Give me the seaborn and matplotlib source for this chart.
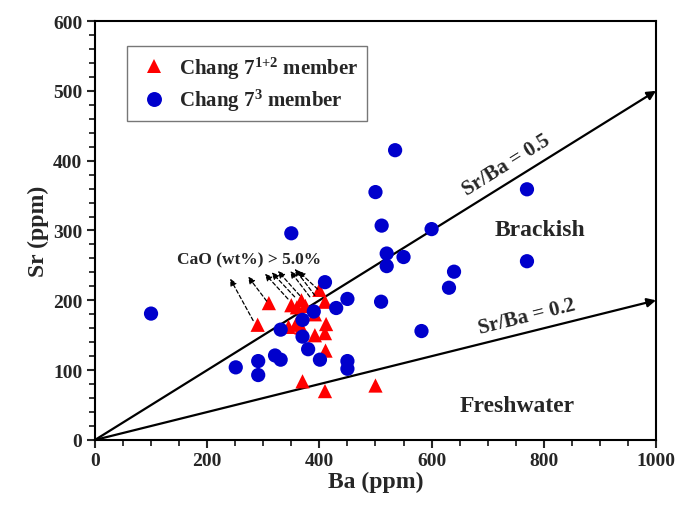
import numpy as np
import pandas as pd
import seaborn as sns
import matplotlib.pyplot as plt
from matplotlib.ticker import MultipleLocator

# Chang 7^(1+2) member (red triangles)
ba_12 = [290, 310, 350, 360, 368, 375, 400, 410, 392, 345, 358, 368, 412, 392, 410, 411, 370, 410, 500]
sr_12 = [165, 196, 193, 190, 200, 192, 215, 198, 180, 162, 165, 161, 166, 150, 153, 128, 84, 70, 78]

# Chang 7^3 member (blue circles)
ba_3 = [100, 251, 291, 291, 321, 331, 331, 350, 370, 370, 380, 390, 401, 410, 430, 450,
        450, 450, 500, 510, 511, 520, 520, 535, 550, 582, 600, 631, 640, 770, 770]
sr_3 = [181, 104, 113, 93, 121, 115, 158, 296, 172, 148, 130, 184, 115, 226, 189, 202,
        113, 102, 355, 198, 307, 267, 249, 415, 262, 156, 302, 218, 241, 359, 256]

# dashed arrows: tail (sample) -> head (label)
arrow_tail_x = [282, 306, 344, 356, 365, 383, 392, 397]
arrow_tail_y = [171, 199, 202, 205, 207, 205, 207, 216]
arrow_head_x = [241, 273, 303, 315, 326, 348, 356, 362]
arrow_head_y = [231, 234, 238, 240, 242, 242, 245, 242]

ratios = [0.5, 0.2]
ratio_labels = ["Sr/Ba = 0.5", "Sr/Ba = 0.2"]

label_12 = "Chang 7$^{\\mathbf{1{+}2}}$ member"
label_3 = "Chang 7$^{\\mathbf{3}}$ member"

df = pd.DataFrame({
    "Ba": ba_12 + ba_3,
    "Sr": sr_12 + sr_3,
    "Group": [label_12] * len(ba_12) + [label_3] * len(ba_3),
})

sns.set_style("white")
plt.rcParams["font.family"] = ["Liberation Serif", "DejaVu Serif"]
plt.rcParams["font.weight"] = "bold"
plt.rcParams["mathtext.fontset"] = "custom"
plt.rcParams["mathtext.rm"] = "Liberation Serif:bold"
plt.rcParams["mathtext.bf"] = "Liberation Serif:bold"
plt.rcParams["mathtext.it"] = "Liberation Serif:bold"

fig = plt.figure(figsize=(6.78, 5.06), dpi=100)
ax = fig.add_axes([0.140, 0.1285, 0.8276, 0.828])

sns.scatterplot(data=df, x="Ba", y="Sr", hue="Group", style="Group",
                palette={label_12: "#ff0000", label_3: "#0000cc"},
                markers={label_12: "^", label_3: "o"},
                s=105, linewidth=0, ax=ax, zorder=3)

ax.set_xlim(0, 1000)
ax.set_ylim(0, 600)

# Sr/Ba reference lines
for r in ratios:
    ax.annotate("", xy=(1000, 1000 * r), xytext=(0, 0),
                arrowprops=dict(arrowstyle="-|>", color="black", lw=1.6,
                                mutation_scale=13, shrinkA=0, shrinkB=0),
                zorder=2)

ax.text(734, 394, ratio_labels[0], rotation=32, ha="center", va="center",
        fontsize=15, fontweight="bold")
ax.text(770, 177, ratio_labels[1], rotation=14, ha="center", va="center",
        fontsize=15, fontweight="bold")
ax.text(793, 301, "Brackish", ha="center", va="center", fontsize=17, fontweight="bold")
ax.text(752, 49, "Freshwater", ha="center", va="center", fontsize=17, fontweight="bold")

for tx, ty, hx, hy in zip(arrow_tail_x, arrow_tail_y, arrow_head_x, arrow_head_y):
    ax.annotate("", xy=(hx, hy), xytext=(tx, ty),
                arrowprops=dict(arrowstyle="-|>", color="black", lw=0.9,
                                linestyle=(0, (3, 2)), mutation_scale=10,
                                shrinkA=0, shrinkB=0),
                zorder=4)
ax.text(275, 259, "CaO (wt%) > 5.0%", ha="center", va="center",
        fontsize=12.5, fontweight="bold")

ax.xaxis.set_major_locator(MultipleLocator(200))
ax.xaxis.set_minor_locator(MultipleLocator(50))
ax.yaxis.set_major_locator(MultipleLocator(100))
ax.yaxis.set_minor_locator(MultipleLocator(20))
ax.tick_params(which="major", direction="out", length=6, width=1.5,
               labelsize=14, bottom=True, left=True, pad=3)
ax.tick_params(which="minor", direction="out", length=4, width=1.3,
               bottom=True, left=True)
for lab in ax.get_xticklabels() + ax.get_yticklabels():
    lab.set_fontweight("bold")
for sp in ax.spines.values():
    sp.set_linewidth(1.5)
    sp.set_color("black")

ax.set_xlabel("Ba (ppm)", fontsize=17, fontweight="bold", labelpad=1)
ax.set_ylabel("Sr (ppm)", fontsize=17, fontweight="bold", labelpad=3)

leg = ax.legend(loc="upper left", bbox_to_anchor=(0.057, 0.94), borderaxespad=0,
                fontsize=15, frameon=True, fancybox=False, edgecolor="#555555",
                handletextpad=0.3, borderpad=0.4, labelspacing=0.3,
                handlelength=1.8, markerscale=1.05)
leg.get_frame().set_linewidth(1.0)

fig.savefig("out.png", dpi=100)
